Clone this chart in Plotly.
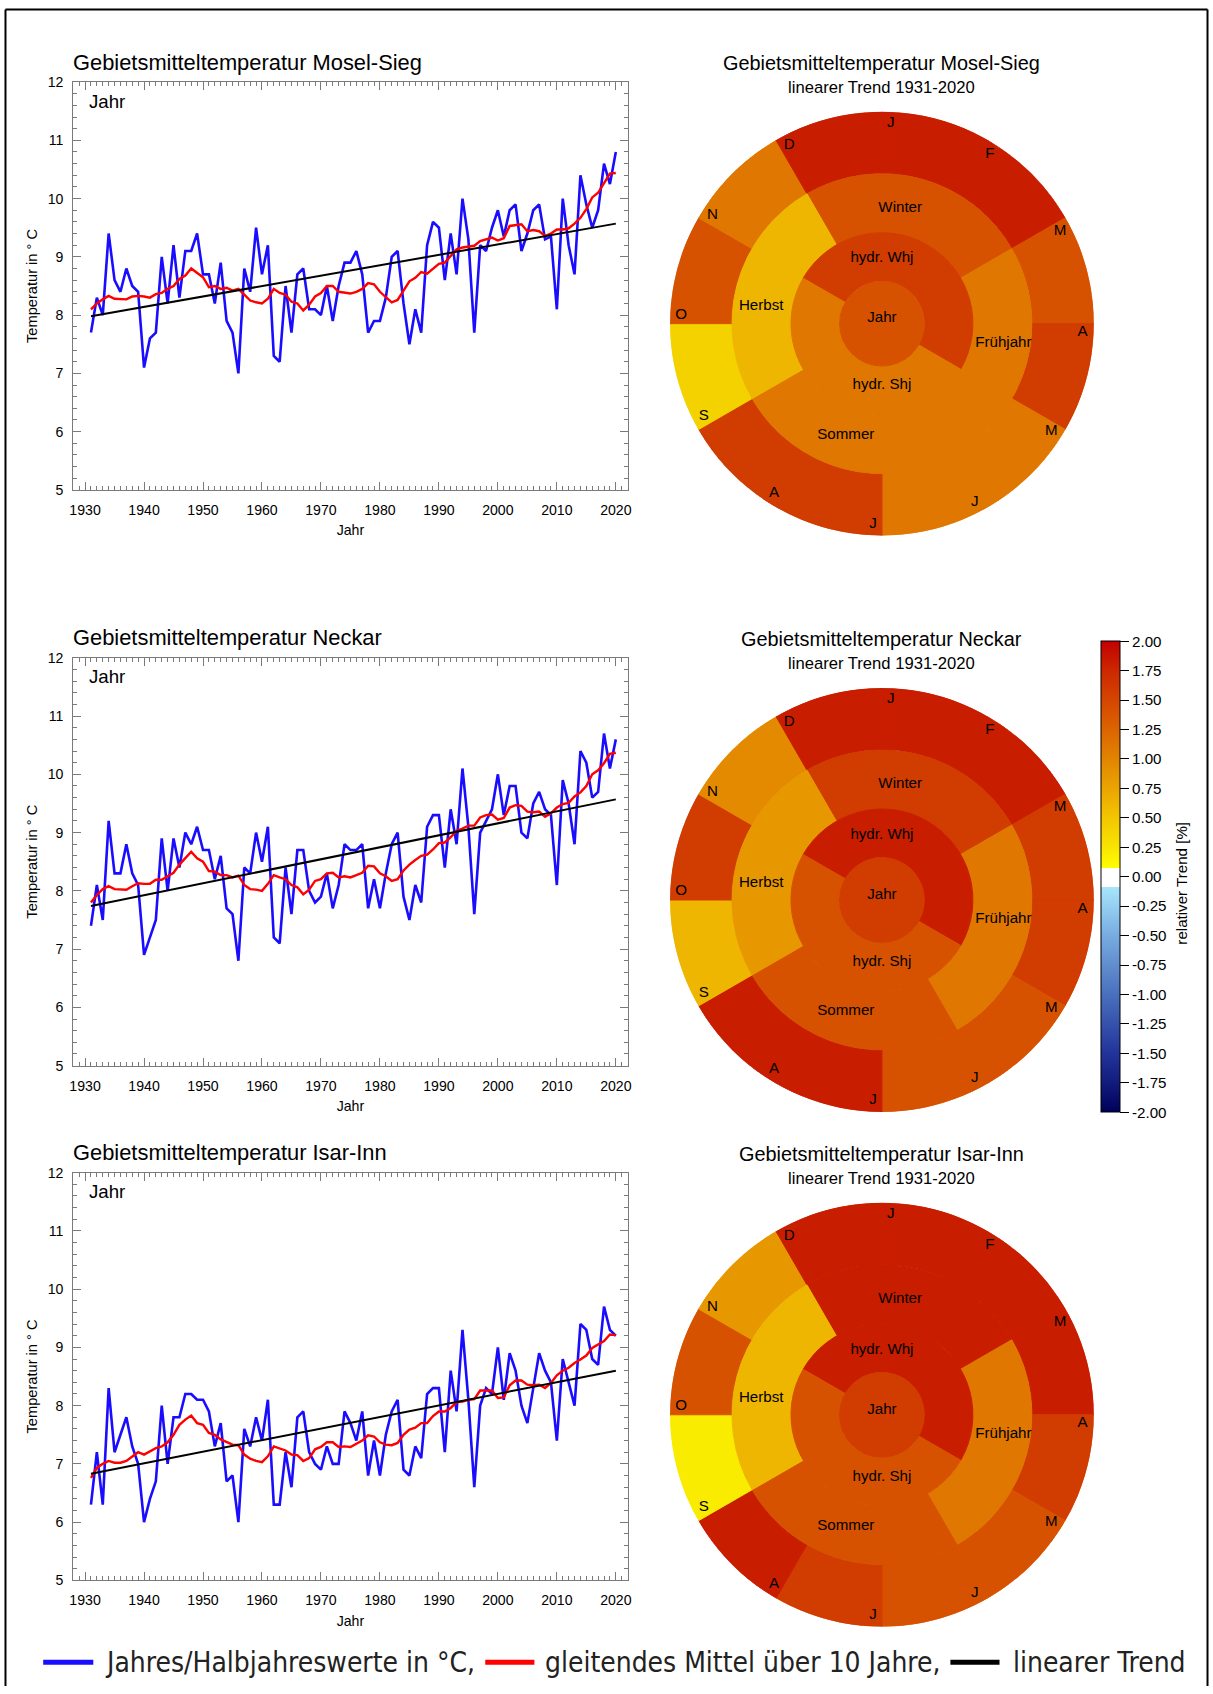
import plotly.graph_objects as go
from plotly.colors import sample_colorscale

# Figure fills the 1213x1694 page. Positions below are given in target pixels
# and mapped to figure pixels with a small affine correction measured from renders.
W, H = 1213, 1694
A_OFF, B_SC = 5.9, 0.991
S = 1 / B_SC
def pxl(t): return (t - A_OFF) / B_SC
def fx(t): return pxl(t) / W
def fy(t): return 1 - pxl(t) / H

# ---------------- data ----------------
years = list(range(1931, 2021))
trend_years = [1931, 2020]
basins = ["Mosel-Sieg", "Neckar", "Isar-Inn"]

mosel_blue = [7.7, 8.3, 8.0, 9.4, 8.6, 8.4, 8.8, 8.5, 8.4, 7.1,
              7.6, 7.7, 9.0, 8.2, 9.2, 8.3, 9.1, 9.1, 9.4, 8.7,
              8.7, 8.2, 8.9, 7.9, 7.7, 7.0, 8.8, 8.4, 9.5, 8.7,
              9.2, 7.3, 7.2, 8.5, 7.7, 8.7, 8.8, 8.1, 8.1, 8.0,
              8.5, 7.9, 8.5, 8.9, 8.9, 9.1, 8.7, 7.7, 7.9, 7.9,
              8.3, 9.0, 9.1, 8.2, 7.5, 8.1, 7.7, 9.2, 9.6, 9.5,
              8.6, 9.4, 8.7, 10.0, 9.3, 7.7, 9.2, 9.1, 9.5, 9.8,
              9.35, 9.8, 9.9, 9.1, 9.4, 9.8, 9.9, 9.3, 9.35, 8.1,
              10.0, 9.2, 8.7, 10.4, 9.9, 9.5, 9.8, 10.6, 10.25, 10.8]
mosel_red = [8.1, 8.2, 8.27, 8.33, 8.28, 8.27, 8.27, 8.32, 8.33, 8.32,
             8.30, 8.36, 8.38, 8.45, 8.5, 8.62, 8.68, 8.8, 8.72, 8.65,
             8.48, 8.5, 8.45, 8.47, 8.42, 8.45, 8.35, 8.25, 8.22, 8.2,
             8.28, 8.45, 8.38, 8.35, 8.23, 8.2, 8.08, 8.18, 8.32, 8.38,
             8.5, 8.5, 8.4, 8.38, 8.37, 8.4, 8.45, 8.55, 8.53, 8.4,
             8.31, 8.22, 8.26, 8.43, 8.58, 8.64, 8.74, 8.71, 8.8, 8.88,
             8.9, 9.02, 9.13, 9.16, 9.17, 9.19, 9.27, 9.3, 9.33, 9.28,
             9.32, 9.53, 9.54, 9.56, 9.44, 9.46, 9.44, 9.36, 9.4, 9.47,
             9.47, 9.49, 9.57, 9.67, 9.82, 10.02, 10.1, 10.27, 10.43, 10.44]
mosel_trend = [7.98, 9.57]

neckar_blue = [7.4, 8.1, 7.5, 9.2, 8.3, 8.3, 8.8, 8.3, 8.1, 6.9,
               7.2, 7.5, 8.9, 8.0, 8.9, 8.4, 9.0, 8.8, 9.1, 8.7,
               8.7, 8.2, 8.6, 7.7, 7.6, 6.8, 8.4, 8.3, 9.0, 8.5,
               9.1, 7.2, 7.1, 8.4, 7.6, 8.7, 8.7, 8.0, 7.8, 7.9,
               8.3, 7.7, 8.1, 8.8, 8.7, 8.7, 8.8, 7.7, 8.2, 7.7,
               8.3, 8.8, 9.0, 7.9, 7.5, 8.1, 7.8, 9.1, 9.3, 9.3,
               8.4, 9.4, 8.8, 10.1, 9.1, 7.6, 9.0, 9.2, 9.4, 10.0,
               9.3, 9.8, 9.8, 9.0, 8.9, 9.5, 9.7, 9.4, 9.3, 8.1,
               9.9, 9.5, 8.8, 10.4, 10.2, 9.6, 9.7, 10.7, 10.1, 10.6]
neckar_red = [7.8, 7.93, 8.03, 8.08, 8.03, 8.02, 8.02, 8.08, 8.13, 8.12,
              8.12, 8.19, 8.19, 8.25, 8.31, 8.45, 8.56, 8.67, 8.56, 8.5,
              8.34, 8.33, 8.27, 8.27, 8.23, 8.26, 8.1, 8.03, 8.02, 8.0,
              8.12, 8.27, 8.23, 8.2, 8.1, 8.06, 7.94, 8.02, 8.17, 8.2,
              8.3, 8.31, 8.23, 8.25, 8.23, 8.27, 8.31, 8.43, 8.42, 8.3,
              8.25, 8.17, 8.2, 8.35, 8.45, 8.53, 8.6, 8.62, 8.71, 8.82,
              8.83, 8.92, 9.03, 9.07, 9.12, 9.12, 9.26, 9.3, 9.31, 9.22,
              9.25, 9.43, 9.47, 9.46, 9.36, 9.35, 9.36, 9.27, 9.33, 9.43,
              9.49, 9.51, 9.62, 9.69, 9.8, 10.0, 10.07, 10.19, 10.35, 10.37]
neckar_trend = [7.74, 9.57]

isar_blue = [6.3, 7.2, 6.3, 8.3, 7.2, 7.5, 7.8, 7.3, 7.0, 6.0,
             6.4, 6.7, 8.0, 7.0, 7.8, 7.8, 8.2, 8.2, 8.1, 8.1,
             7.9, 7.3, 7.7, 6.7, 6.8, 6.0, 7.6, 7.3, 7.8, 7.4,
             8.1, 6.3, 6.3, 7.2, 6.6, 7.8, 7.9, 7.2, 7.0, 6.9,
             7.3, 7.0, 7.0, 7.9, 7.7, 7.4, 7.9, 6.8, 7.4, 6.8,
             7.5, 7.9, 8.1, 6.9, 6.8, 7.3, 7.1, 8.2, 8.3, 8.3,
             7.2, 8.6, 7.9, 9.3, 8.1, 6.6, 8.0, 8.3, 8.2, 9.0,
             8.1, 8.9, 8.6, 8.0, 7.7, 8.3, 8.9, 8.6, 8.4, 7.4,
             8.8, 8.4, 8.0, 9.4, 9.3, 8.8, 8.7, 9.7, 9.3, 9.2]
isar_red = [6.76, 6.93, 7.0, 7.05, 7.02, 7.02, 7.05, 7.13, 7.2, 7.16,
            7.22, 7.27, 7.3, 7.37, 7.5, 7.67, 7.76, 7.83, 7.7, 7.67,
            7.53, 7.5, 7.42, 7.38, 7.33, 7.32, 7.16, 7.09, 7.05, 7.03,
            7.13, 7.3, 7.26, 7.23, 7.16, 7.15, 7.05, 7.1, 7.25, 7.29,
            7.37, 7.37, 7.29, 7.3, 7.29, 7.34, 7.4, 7.49, 7.47, 7.37,
            7.33, 7.32, 7.36, 7.5, 7.59, 7.62, 7.7, 7.7, 7.82, 7.9,
            7.9, 7.96, 8.06, 8.07, 8.1, 8.11, 8.26, 8.26, 8.26, 8.13,
            8.14, 8.35, 8.43, 8.43, 8.36, 8.35, 8.36, 8.3, 8.39, 8.52,
            8.6, 8.65, 8.73, 8.79, 8.86, 8.99, 9.05, 9.11, 9.22, 9.21]
isar_trend = [6.83, 8.60]

x_ticks = [1930, 1940, 1950, 1960, 1970, 1980, 1990, 2000, 2010, 2020]

# polar (relative trend) data
month_labels = ["J", "F", "M", "A", "M", "J", "J", "A", "S", "O", "N", "D"]
season_labels = ["Winter", "Frühjahr", "Sommer", "Herbst"]
half_labels = ["hydr. Whj", "hydr. Shj"]
year_label = "Jahr"

mosel_months = [1.82, 1.82, 1.4, 1.58, 1.1, 1.1, 1.58, 1.58, 0.4, 1.4, 1.1, 1.82]
mosel_seasons = [1.4, 1.1, 1.1, 0.62]
mosel_halves = [1.58, 1.1]
mosel_year = 1.4

neckar_months = [1.82, 1.82, 1.58, 1.58, 1.4, 1.4, 1.82, 1.82, 0.62, 1.58, 0.95, 1.82]
neckar_seasons = [1.58, 1.1, 1.4, 0.85]
neckar_halves = [1.82, 1.4]
neckar_year = 1.58

isar_months = [1.82, 1.82, 1.82, 1.58, 1.4, 1.4, 1.58, 1.82, 0.2, 1.4, 0.85, 1.82]
isar_seasons = [1.82, 1.1, 1.4, 0.62]
isar_halves = [1.82, 1.4]
isar_year = 1.58

cbar_ticks = [2.0, 1.75, 1.5, 1.25, 1.0, 0.75, 0.5, 0.25, 0.0,
              -0.25, -0.5, -0.75, -1.0, -1.25, -1.5, -1.75, -2.0]

# ---------------- styling ----------------
FONT = "Liberation Sans, Arial, Helvetica, sans-serif"
AX = "#7a7a7a"
BLUE = "#1a0dff"
RED = "#ff0000"

blues = [mosel_blue, neckar_blue, isar_blue]
reds = [mosel_red, neckar_red, isar_red]
trends = [mosel_trend, neckar_trend, isar_trend]
p_months = [mosel_months, neckar_months, isar_months]
p_seasons = [mosel_seasons, neckar_seasons, isar_seasons]
p_halves = [mosel_halves, neckar_halves, isar_halves]
p_year = [mosel_year, neckar_year, isar_year]

CMIN, CMAX = -2.0, 2.0
def nv(v):
    return (v - CMIN) / (CMAX - CMIN)

colorscale = [
    [nv(-2.0), "#00005a"], [nv(-1.75), "#121c7c"], [nv(-1.5), "#22349a"],
    [nv(-1.0), "#4a70bd"], [nv(-0.5), "#78ace0"], [nv(-0.085), "#a8e6fc"],
    [nv(-0.085), "#ffffff"], [nv(0.07), "#ffffff"], [nv(0.07), "#ffff00"],
    [nv(0.25), "#f8e400"], [nv(0.5), "#f2c600"], [nv(0.75), "#eaa400"],
    [nv(1.0), "#e28400"], [nv(1.25), "#dc6400"], [nv(1.5), "#d44600"],
    [nv(1.75), "#cc2800"], [nv(2.0), "#c20000"],
]
# smooth part of the scale (positive side) used to colour segment outlines
pos_scale = [[(p - nv(0.07)) / (1 - nv(0.07)), c] for p, c in colorscale[8:]]
def seg_color(v):
    return sample_colorscale(pos_scale, [(nv(v) - nv(0.07)) / (1 - nv(0.07))])[0]

fig = go.Figure()

box_tops = [80, 656, 1171]
BOX_H = 408
X0, X1 = 75, 628
pol_cy = [321.7, 898.3, 1413.3]
PCX, R = 881.7, 212.0
R_YEAR, R_HALF, R_SEAS = 42.4, 91.0, 150.0

annotations = []
layout_axes = {}

for i, name in enumerate(basins):
    k = "" if i == 0 else str(i + 1)
    xa, ya = "x" + k, "y" + k
    fig.add_trace(go.Scatter(x=years, y=blues[i], mode="lines",
                             line=dict(color=BLUE, width=2.6),
                             xaxis=xa, yaxis=ya, showlegend=False))
    fig.add_trace(go.Scatter(x=years, y=reds[i], mode="lines",
                             line=dict(color=RED, width=2.4),
                             xaxis=xa, yaxis=ya, showlegend=False))
    fig.add_trace(go.Scatter(x=trend_years, y=trends[i], mode="lines",
                             line=dict(color="black", width=2.0),
                             xaxis=xa, yaxis=ya, showlegend=False))
    top = box_tops[i]
    layout_axes["xaxis" + k] = dict(
        domain=[fx(X0), fx(X1)], range=[1928, 2022], anchor=ya,
        tickmode="array", tickvals=x_ticks, ticks="inside", ticklen=8,
        tickcolor=AX, tickwidth=1,
        minor=dict(tick0=1930, dtick=1, ticks="inside", ticklen=4, tickcolor=AX),
        showline=True, linecolor=AX, linewidth=1, mirror="ticks",
        showgrid=False, zeroline=False,
        tickfont=dict(size=14 * S, color="black", family=FONT),
        ticklabelstandoff=7,
        title=dict(text="Jahr", font=dict(size=14 * S, color="black", family=FONT), standoff=8),
    )
    layout_axes["yaxis" + k] = dict(
        domain=[fy(top + BOX_H), fy(top)], range=[5, 12], anchor=xa,
        tick0=5, dtick=1, ticks="inside", ticklen=8, tickcolor=AX, tickwidth=1,
        minor=dict(tick0=5, dtick=0.2, ticks="inside", ticklen=4, tickcolor=AX),
        showline=True, linecolor=AX, linewidth=1, mirror="ticks",
        showgrid=False, zeroline=False,
        tickfont=dict(size=14 * S, color="black", family=FONT),
        ticklabelstandoff=6,
        title=dict(text="Temperatur in ° C", font=dict(size=14.5 * S, color="black", family=FONT), standoff=6),
    )
    # left title
    annotations.append(dict(text="Gebietsmitteltemperatur " + name, xref="paper", yref="paper",
                            x=fx(73), y=fy(top - 20), xanchor="left", yanchor="middle",
                            showarrow=False, font=dict(size=21.7 * S, color="black", family=FONT)))
    annotations.append(dict(text="Jahr", xref=xa + " domain", yref=ya + " domain",
                            x=0.024, y=0.953, xanchor="left", yanchor="middle",
                            showarrow=False, font=dict(size=18.5 * S, color="black", family=FONT)))

    # ---- polar ----
    pk = "polar" + k
    cy = pol_cy[i]
    theta = [m * 30 + 15 for m in range(12)] + [15, 105, 195, 285] + [30, 210] + [0]
    width = [30] * 12 + [90] * 4 + [180] * 2 + [360]
    base = [R_SEAS] * 12 + [R_HALF] * 4 + [R_YEAR] * 2 + [0]
    rr = [R - R_SEAS] * 12 + [R_SEAS - R_HALF] * 4 + [R_HALF - R_YEAR] * 2 + [R_YEAR]
    vals = p_months[i] + p_seasons[i] + p_halves[i] + [p_year[i]]
    fig.add_trace(go.Barpolar(theta=theta, width=width, base=base, r=rr,
                              marker=dict(color=vals, coloraxis="coloraxis",
                                          line=dict(width=1.0, color=[seg_color(v) for v in vals])),
                              subplot=pk, showlegend=False, hoverinfo="skip"))
    lab_text = month_labels + season_labels + half_labels + [year_label]
    lab_theta = [m * 30 + 2.5 for m in range(12)] + [9, 99, 198, 278] + [0, 180] + [0]
    lab_r = [201] * 12 + [117, 123, 117, 122] + [65, 62] + [5]
    fig.add_trace(go.Scatterpolar(theta=lab_theta, r=lab_r, text=lab_text, mode="text",
                                  textfont=dict(size=15 * S, color="black", family=FONT),
                                  subplot=pk, showlegend=False, hoverinfo="skip"))
    layout_axes[pk] = dict(
        domain=dict(x=[fx(PCX - R), fx(PCX + R)], y=[fy(cy + R), fy(cy - R)]),
        bgcolor="white",
        angularaxis=dict(visible=False, rotation=90, direction="clockwise"),
        radialaxis=dict(visible=False, range=[0, R]),
    )
    annotations.append(dict(text="Gebietsmitteltemperatur " + name, xref="paper", yref="paper",
                            x=fx(PCX), y=fy(cy - 261), xanchor="center", yanchor="middle",
                            showarrow=False, font=dict(size=19.7 * S, color="black", family=FONT)))
    annotations.append(dict(text="linearer Trend 1931-2020", xref="paper", yref="paper",
                            x=fx(PCX), y=fy(cy - 236.5), xanchor="center", yanchor="middle",
                            showarrow=False, font=dict(size=16.5 * S, color="black", family=FONT)))

# colorbar title
annotations.append(dict(text="relativer Trend [%]", xref="paper", yref="paper",
                        x=fx(1181), y=fy(881), xanchor="center", yanchor="middle",
                        textangle=-90, showarrow=False,
                        font=dict(size=15 * S, color="black", family=FONT)))

# bottom legend
LEG_FONT = "Liberation Sans Narrow, DejaVu Sans Condensed, Roboto Condensed, Liberation Sans, sans-serif"
leg_y = 1661
legend_items = [("Jahres/Halbjahreswerte in °C,", BLUE, 45, 95, 105),
                ("gleitendes Mittel über 10 Jahre,", RED, 486, 535, 544),
                ("linearer Trend", "black", 950, 999, 1010)]
shapes = []
for txt, col, l0, l1, t0 in legend_items:
    shapes.append(dict(type="line", xref="paper", yref="paper", x0=fx(l0), x1=fx(l1),
                       y0=fy(leg_y), y1=fy(leg_y), line=dict(color=col, width=5)))
    annotations.append(dict(text=txt, xref="paper", yref="paper", x=fx(t0), y=fy(leg_y),
                            xanchor="left", yanchor="middle", showarrow=False,
                            font=dict(size=27.7 * S, color="#222222", family=LEG_FONT)))

# outer frame (top, left, right)
fl, ft, fr, fb = 1.5 / W, 1 - 1.5 / H, 1 - 1.5 / W, 0.0
for (a, b, c, d) in [(fl, ft, fr, ft), (fl, ft, fl, fb), (fr, ft, fr, fb)]:
    shapes.append(dict(type="line", xref="paper", yref="paper", x0=a, y0=b,
                       x1=c, y1=d, line=dict(color="black", width=2)))

fig.update_layout(
    width=W, height=H, margin=dict(l=0, r=0, t=0, b=0),
    paper_bgcolor="white", plot_bgcolor="white",
    font=dict(family=FONT, color="black"),
    showlegend=False,
    annotations=annotations, shapes=shapes,
    coloraxis=dict(
        cmin=CMIN, cmax=CMAX, colorscale=colorscale,
        colorbar=dict(
            x=fx(1100.7), xanchor="left", y=fy(875), yanchor="middle",
            thickness=18.6 * S, thicknessmode="pixels", len=466.6 * S, lenmode="pixels",
            xpad=0, ypad=0, outlinewidth=1, outlinecolor="black",
            ticks="outside", ticklen=9, tickcolor="black",
            tickvals=cbar_ticks, ticktext=["%.2f" % v for v in cbar_ticks],
            tickfont=dict(size=15 * S, color="black", family=FONT),
        ),
    ),
    **layout_axes,
)

fig.write_html("out.html", config={"displayModeBar": False},
               post_script="document.body.style.margin='0px';")
